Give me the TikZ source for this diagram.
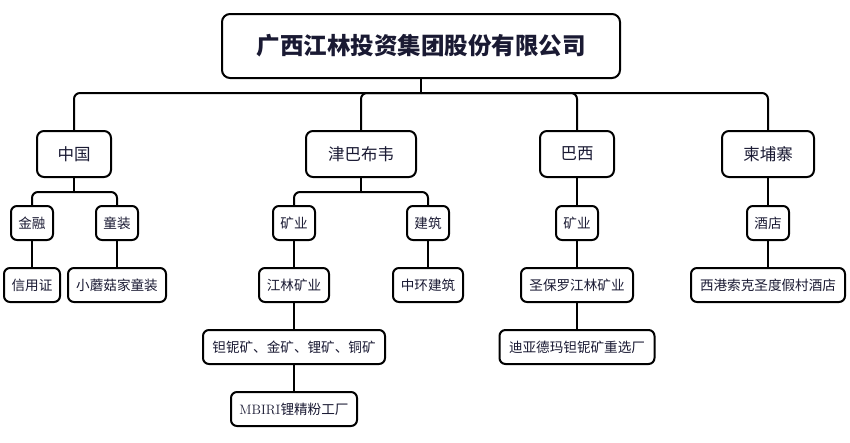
\documentclass[tikz,border=0pt]{standalone}
\usepackage{fontspec}
\newfontfamily\cjk{Noto Sans CJK SC}
\definecolor{OrgInk}{HTML}{1A1A33}
\tikzset{unit/.style={draw=black,line width=2pt,rounded corners=6pt,fill=white,inner sep=0pt,minimum height=34pt,text=OrgInk,font=\cjk\fontsize{13.6}{16}\selectfont},
region/.style={unit,minimum height=46pt,rounded corners=7pt,font=\cjk\fontsize{16.5}{19}\selectfont},
link/.style={draw=black,line width=2pt,rounded corners=6pt}}

\begin{document}
\begin{tikzpicture}[x=1pt,y=-1pt]
\useasboundingbox (0,0) rectangle (850,442);
% top
\node[unit,minimum width=398pt,minimum height=64pt,rounded corners=8pt,font=\cjk\bfseries\fontsize{23.5}{28}\selectfont] (root) at (421,46) {广西江林投资集团股份有限公司};
% countries
\node[region,minimum width=74pt] (cn) at (74,154) {中国};
\node[region,minimum width=110pt] (zw) at (361,154) {津巴布韦};
\node[region,minimum width=74pt] (br) at (577,154) {巴西};
\node[region,minimum width=92pt] (kh) at (768,154) {柬埔寨};
% sectors
\node[unit,minimum width=42pt] (cnfin) at (32,223) {金融};
\node[unit,minimum width=42pt] (cnkid) at (117,223) {童装};
\node[unit,minimum width=42pt] (zwmine) at (294,223) {矿业};
\node[unit,minimum width=42pt] (zwbuild) at (428,223) {建筑};
\node[unit,minimum width=42pt] (brmine) at (577,223) {矿业};
\node[unit,minimum width=42pt] (khhotel) at (768,223) {酒店};
% companies
\node[unit,minimum width=56pt] (lc) at (32,285) {信用证};
\node[unit,minimum width=98pt] (mogu) at (117,285) {小蘑菇家童装};
\node[unit,minimum width=70pt] (jlmine) at (294,285) {江林矿业};
\node[unit,minimum width=70pt] (zhbuild) at (428,285) {中环建筑};
\node[unit,minimum width=112pt] (spmine) at (577,285) {圣保罗江林矿业};
\node[unit,minimum width=154pt] (xghotel) at (768,285) {西港索克圣度假村酒店};
\node[unit,minimum width=182pt] (zwore) at (294,347) {钽铌矿、金矿、锂矿、铜矿};
\node[unit,minimum width=155pt] (brplant) at (577,347) {迪亚德玛钽铌矿重选厂};
\node[unit,minimum width=126pt] (mbiri) at (294,409) {{\rmfamily MBIRI}锂精粉工厂};
% connectors
\coordinate (rootbus) at ([yshift=-14pt]root.south);
\coordinate (cnbus) at ([yshift=-14pt]cn.south);
\coordinate (zwbus) at ([yshift=-14pt]zw.south);
\draw[link] (root.south) -- (rootbus);
\foreach \c in {cn,zw,br,kh} \draw[link] (rootbus) -| (\c.north);
\draw[link] (cn.south) -- (cnbus);
\foreach \c in {cnfin,cnkid} \draw[link] (cnbus) -| (\c.north);
\draw[link] (zw.south) -- (zwbus);
\foreach \c in {zwmine,zwbuild} \draw[link] (zwbus) -| (\c.north);
\draw[link] (br.south) -- (brmine.north);
\draw[link] (kh.south) -- (khhotel.north);
\draw[link] (cnfin.south) -- (lc.north);
\draw[link] (cnkid.south) -- (mogu.north);
\draw[link] (zwmine.south) -- (jlmine.north);
\draw[link] (zwbuild.south) -- (zhbuild.north);
\draw[link] (brmine.south) -- (spmine.north);
\draw[link] (khhotel.south) -- (xghotel.north);
\draw[link] (jlmine.south) -- (zwore.north);
\draw[link] (spmine.south) -- (brplant.north);
\draw[link] (zwore.south) -- (mbiri.north);
\end{tikzpicture}
\end{document}
